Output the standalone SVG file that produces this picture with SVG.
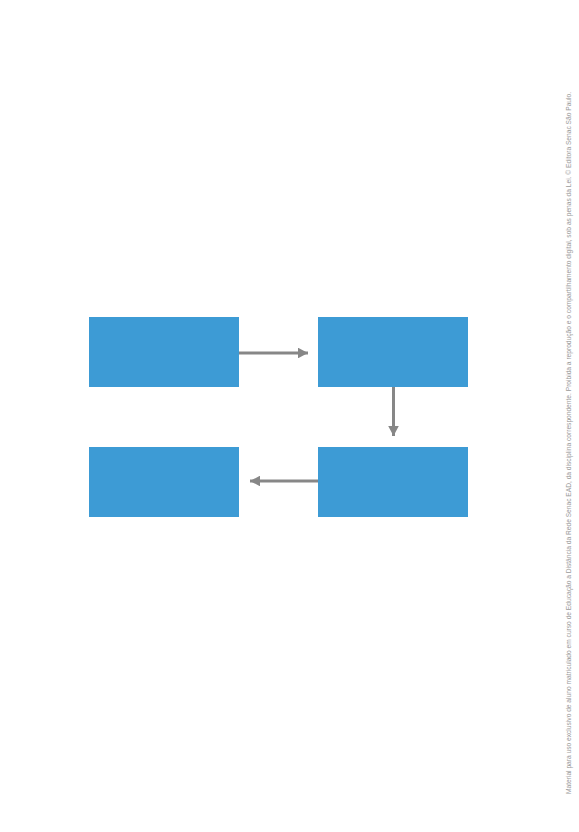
<svg xmlns="http://www.w3.org/2000/svg" width="579" height="832" viewBox="0 0 579 832">
<style>
.box{fill:#3d9bd5}
.conn{stroke:#878787;stroke-width:3;fill:none}
.note{font-family:"Liberation Sans",Arial,sans-serif;font-size:7.5px;fill:#9a9a9a}
</style>
<defs>
<marker id="ah" markerWidth="3.6" markerHeight="3.6" refX="3.4" refY="1.8" orient="auto" markerUnits="strokeWidth">
<path d="M0,0 L3.4,1.8 L0,3.6 Z" fill="#878787"/>
</marker>
</defs>
<rect width="579" height="832" fill="#ffffff"/>
<g id="node1"><rect class="box" x="89" y="317" width="150" height="70"/></g>
<g id="node2"><rect class="box" x="318" y="317" width="150" height="70"/></g>
<g id="node3"><rect class="box" x="318" y="447" width="150" height="70"/></g>
<g id="node4"><rect class="box" x="89" y="447" width="150" height="70"/></g>
<g id="connectors">
<line class="conn" x1="239" y1="353" x2="308" y2="353" marker-end="url(#ah)"/>
<line class="conn" x1="393.5" y1="387" x2="393.5" y2="436" marker-end="url(#ah)"/>
<line class="conn" x1="318" y1="481" x2="250" y2="481" marker-end="url(#ah)"/>
</g>
<text class="note" transform="translate(570.5,794) rotate(-90)" textLength="702" lengthAdjust="spacingAndGlyphs">Material para uso exclusivo de aluno matriculado em curso de Educação a Distância da Rede Senac EAD, da disciplina correspondente. Proibida a reprodução e o compartilhamento digital, sob as penas da Lei. © Editora Senac São Paulo.</text>
</svg>
